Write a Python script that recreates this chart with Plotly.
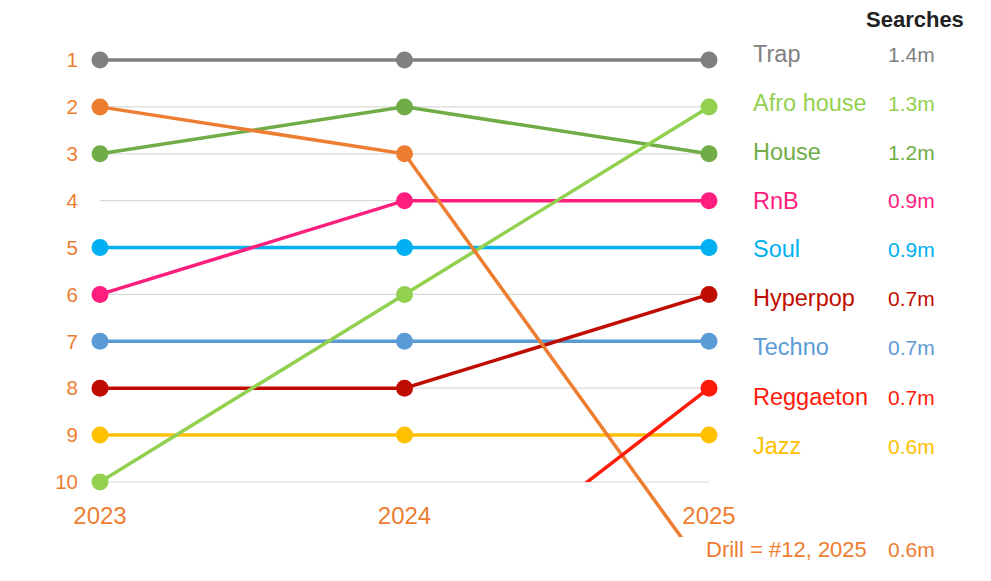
import plotly.graph_objects as go

# ---------------- data ----------------
years = [2023, 2024, 2025]
rank_labels = [1, 2, 3, 4, 5, 6, 7, 8, 9, 10]

genres = ["Trap", "Afro house", "House", "RnB", "Soul", "Hyperpop",
          "Techno", "Reggaeton", "Jazz", "Drill"]
rank_trap = [1, 1, 1]
rank_afro_house = [10, 6, 2]
rank_house = [3, 2, 3]
rank_rnb = [6, 4, 4]
rank_soul = [5, 5, 5]
rank_hyperpop = [8, 8, 6]
rank_techno = [7, 7, 7]
rank_reggaeton = [None, 13, 8]
rank_jazz = [9, 9, 9]
rank_drill = [2, 3, 12]
searches = ["1.4m", "1.3m", "1.2m", "0.9m", "0.9m", "0.7m", "0.7m", "0.7m", "0.6m", "0.6m"]
drill_note = "Drill = #12, 2025"
header = "Searches"

colors = {
    "Trap": "#808080", "Afro house": "#92d050", "House": "#70ad47",
    "RnB": "#ff1d7e", "Soul": "#00b0f0", "Hyperpop": "#c00c00",
    "Techno": "#5b9bd5", "Reggaeton": "#ff1a0a", "Jazz": "#ffc000",
    "Drill": "#ed7d31",
}
ranks = {
    "Trap": rank_trap, "Afro house": rank_afro_house, "House": rank_house,
    "RnB": rank_rnb, "Soul": rank_soul, "Hyperpop": rank_hyperpop,
    "Techno": rank_techno, "Reggaeton": rank_reggaeton, "Jazz": rank_jazz,
    "Drill": rank_drill,
}

# ---------------- geometry (page pixels) ----------------
OFF = 8                   # page body margin
W, H = 991 - OFF, 581 - OFF
PL, PR = 85, 725          # plot area left/right (page px)
PT, PB = 37, 537          # plot area top/bottom (page px)
X0PX, X2PX = 100, 709     # pixel of first/last year
R1PX, R10PX = 60, 482     # pixel of rank 1 / rank 10

pxyear = (X2PX - X0PX) / (years[-1] - years[0])
xr = [years[0] - (X0PX - PL) / pxyear, years[-1] + (PR - X2PX) / pxyear]
pxrank = (R10PX - R1PX) / 9
ytop = 1 - (R1PX - PT) / pxrank
ybot = 10 + (PB - R10PX) / pxrank
CLIP2 = 10  # reggaeton clipped at rank 10
y2dom0 = (PB - (R10PX + (CLIP2 - 10) * pxrank)) / (PB - PT)

FONT = "Liberation Sans"
ORANGE = "#ed7d31"

fig = go.Figure()

draw_order = ["Trap", "Jazz", "Techno", "Soul", "Hyperpop", "RnB", "House",
              "Reggaeton", "Afro house", "Drill"]
for g in draw_order:
    fig.add_trace(go.Scatter(
        x=years, y=ranks[g], mode="lines+markers", name=g,
        line=dict(color=colors[g], width=3.5),
        marker=dict(color=colors[g], size=17),
        yaxis="y2" if g == "Reggaeton" else "y",
        connectgaps=False, showlegend=False,
    ))

shapes = []
for r in rank_labels[1:]:
    shapes.append(dict(type="line", xref="x", yref="y", x0=years[0], x1=years[-1],
                       y0=r, y1=r, line=dict(color="#d9d9d9", width=1.2), layer="below"))

def fx(px):
    return (px - PL) / (PR - PL)

def fy(py):
    return (PB - py) / (PB - PT)

annotations = []
annotations.append(dict(xref="paper", yref="paper", x=fx(864), y=fy(20), text="<b>%s</b>" % header,
                        showarrow=False, xanchor="left", yanchor="middle",
                        font=dict(family=FONT, size=22, color="#222222")))
row_y = [54, 103, 152, 201, 249, 298, 347, 397, 446]
order_2025 = ["Trap", "Afro house", "House", "RnB", "Soul", "Hyperpop", "Techno", "Reggaeton", "Jazz"]
for i, g in enumerate(order_2025):
    annotations.append(dict(xref="paper", yref="paper", x=fx(751), y=fy(row_y[i]), text=g,
                            showarrow=False, xanchor="left", yanchor="middle",
                            font=dict(family=FONT, size=23.5, color=colors[g])))
    annotations.append(dict(xref="paper", yref="paper", x=fx(886), y=fy(row_y[i]),
                            text=searches[genres.index(g)],
                            showarrow=False, xanchor="left", yanchor="middle",
                            font=dict(family=FONT, size=21, color=colors[g])))
annotations.append(dict(xref="paper", yref="paper", x=fx(704), y=fy(549), text=drill_note,
                        showarrow=False, xanchor="left", yanchor="middle",
                        font=dict(family=FONT, size=22, color=colors["Drill"])))
annotations.append(dict(xref="paper", yref="paper", x=fx(886), y=fy(549),
                        text=searches[genres.index("Drill")],
                        showarrow=False, xanchor="left", yanchor="middle",
                        font=dict(family=FONT, size=21, color=colors["Drill"])))

fig.update_layout(
    width=W, height=H,
    margin=dict(l=PL - OFF, r=991 - PR, t=PT - OFF, b=581 - PB, pad=0),
    paper_bgcolor="white", plot_bgcolor="rgba(0,0,0,0)",
    font=dict(family=FONT),
    xaxis=dict(range=xr, tickvals=years, ticktext=[str(y) for y in years],
               showgrid=False, zeroline=False, showline=False, ticks="",
               anchor="free", position=fy(499),
               tickfont=dict(family=FONT, size=24, color=ORANGE)),
    yaxis=dict(range=[ybot, ytop], tickvals=rank_labels, showgrid=False, zeroline=False,
               showline=False, ticks="", domain=[0, 1], ticklabelstandoff=6,
               tickfont=dict(family=FONT, size=20.5, color=ORANGE)),
    yaxis2=dict(range=[CLIP2, ytop], domain=[y2dom0, 1], anchor="x", visible=False,
                showgrid=False, zeroline=False),
    shapes=shapes, annotations=annotations,
)

fig.write_html("out.html")
